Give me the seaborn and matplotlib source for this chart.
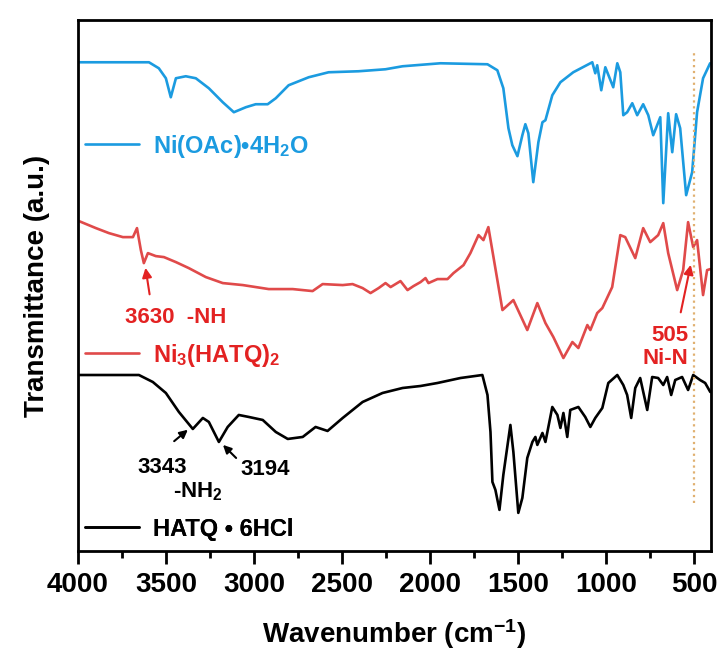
import numpy as np
import pandas as pd
import seaborn as sns
import matplotlib.pyplot as plt
from matplotlib.lines import Line2D

# ----- data (wavenumber in cm-1, transmittance in a.u.) -----
blue_wn = [3994, 3597, 3541, 3501, 3473, 3444, 3388, 3331, 3257, 3178,
           3115, 3047, 2991, 2923, 2877, 2804, 2690, 2577, 2407, 2254,
           2157, 1942, 1675, 1619, 1585, 1556, 1534, 1505, 1477, 1460,
           1443, 1415, 1386, 1363, 1346, 1307, 1261, 1188, 1080, 1063,
           1052, 1029, 1006, 961, 938, 921, 904, 882, 853, 825,
           791, 762, 734, 694, 677, 649, 626, 604, 581, 547,
           513, 485, 451, 411]
blue_t = [485, 485, 479, 469, 450, 469, 471, 469, 459, 445,
          435, 440, 443, 443, 449, 462, 470, 475, 476, 478,
          481, 484, 483, 477, 459, 419, 402, 391, 412, 423,
          414, 365, 405, 425, 427, 452, 465, 475, 485, 474,
          482, 457, 480, 460, 484, 475, 432, 435, 444, 432,
          443, 432, 412, 430, 344, 434, 395, 433, 419, 352,
          375, 435, 469, 484]

red_wn = [3994, 3898, 3824, 3745, 3688, 3665, 3643, 3626, 3603, 3558,
          3512, 3444, 3371, 3274, 3178, 3064, 2917, 2781, 2668, 2611,
          2497, 2441, 2384, 2339, 2293, 2254, 2225, 2169, 2129, 2095,
          2055, 2027, 2010, 1959, 1902, 1868, 1811, 1772, 1726, 1698,
          1670, 1641, 1590, 1528, 1449, 1392, 1346, 1301, 1244, 1193,
          1159, 1108, 1091, 1052, 1023, 967, 921, 893, 836, 791,
          751, 706, 677, 649, 598, 564, 536, 507, 485, 451,
          428, 410]
red_t = [326, 319, 314, 310, 310, 319, 297, 284, 294, 291,
         290, 285, 279, 270, 264, 262, 258, 258, 256, 263,
         262, 263, 259, 254, 259, 264, 260, 266, 257, 261,
         265, 269, 264, 268, 268, 274, 282, 294, 312, 307,
         320, 290, 237, 247, 217, 244, 224, 210, 189, 205,
         199, 222, 217, 234, 239, 260, 312, 310, 289, 319,
         305, 312, 324, 294, 257, 277, 325, 300, 307, 252,
         277, 278]

black_wn = [3994, 3654, 3575, 3501, 3427, 3348, 3291, 3257, 3200, 3150,
            3087, 3030, 2951, 2877, 2809, 2724, 2651, 2583, 2497, 2384,
            2271, 2157, 2055, 1959, 1828, 1704, 1675, 1658, 1647, 1630,
            1607, 1585, 1545, 1528, 1500, 1477, 1449, 1420, 1403, 1392,
            1363, 1346, 1307, 1278, 1261, 1244, 1222, 1205, 1159, 1120,
            1091, 1063, 1023, 989, 938, 904, 882, 859, 836, 808,
            768, 740, 706, 677, 655, 632, 609, 570, 536, 507,
            468, 439, 410]
black_t = [172, 172, 165, 154, 135, 118, 129, 125, 105, 120,
           132, 130, 127, 115, 108, 110, 120, 116, 129, 145,
           154, 159, 161, 164, 169, 172, 152, 115, 65, 57,
           37, 72, 122, 95, 34, 49, 89, 105, 110, 102,
           114, 105, 140, 132, 119, 134, 110, 137, 140, 130,
           120, 129, 139, 164, 172, 162, 152, 129, 159, 169,
           137, 170, 169, 162, 170, 152, 167, 170, 157, 172,
           167, 164, 155]

labels = ['Ni(OAc)•4H$_2$O', 'Ni$_3$(HATQ)$_2$', 'HATQ • 6HCl']
line_colors = ['#1B9BE0', '#E04A4A', '#000000']
text_colors = ['#1B9BE0', '#E32222', '#000000']
ni_n_peak = 505

# ----- style -----
sns.set_style("ticks")
plt.rcParams['font.family'] = ['Liberation Sans', 'DejaVu Sans']
plt.rcParams['font.weight'] = 'bold'
plt.rcParams['mathtext.fontset'] = 'custom'
plt.rcParams['mathtext.rm'] = 'Liberation Sans:bold'
plt.rcParams['mathtext.default'] = 'rm'
plt.rcParams['text.color'] = 'black'
plt.rcParams['axes.labelcolor'] = 'black'
plt.rcParams['axes.edgecolor'] = 'black'
plt.rcParams['xtick.color'] = 'black'

fig = plt.figure(figsize=(7.22, 6.55), dpi=100)
ax = fig.add_axes([0.108, 0.159, 0.877, 0.810])

series = [(blue_wn, blue_t), (red_wn, red_t), (black_wn, black_t)]
for (wn, t), col in zip(series, line_colors):
    df = pd.DataFrame({'wn': wn, 't': t})
    sns.lineplot(data=df, x='wn', y='t', sort=False, estimator=None,
                 color=col, lw=1.9, ax=ax)

ax.axvline(ni_n_peak, ymin=0.09, ymax=0.938, color='#E0B070', ls=':', lw=1.6)

ax.set_xlim(4000, 405)
ax.set_ylim(-4, 527)
ax.set_xticks([4000, 3500, 3000, 2500, 2000, 1500, 1000, 500])
ax.set_xticks(np.arange(3750, 400, -500), minor=True)
ax.set_yticks([])
ax.tick_params(axis='x', which='major', direction='out', length=9, width=2,
               labelsize=20, pad=6, colors='black')
ax.tick_params(axis='x', which='minor', direction='out', length=5, width=2,
               colors='black')
for lab in ax.get_xticklabels():
    lab.set_fontweight('bold')
for sp in ax.spines.values():
    sp.set_linewidth(2)
    sp.set_color('black')
    sp.set_visible(True)

ax.set_xlabel('Wavenumber (cm$^{-1}$)', fontsize=20, fontweight='bold', labelpad=14)
ax.set_ylabel('Transmittance (a.u.)', fontsize=20, fontweight='bold', labelpad=20)

# ----- one legend entry per curve, each next to its own trace -----
legend_y = [0.763, 0.369, 0.041]
for i in range(3):
    h = Line2D([], [], color=line_colors[i], lw=1.9)
    leg = ax.legend([h], [labels[i]], loc='center left',
                    bbox_to_anchor=(0.011, legend_y[i]), frameon=False,
                    borderpad=0, borderaxespad=0, handlelength=2.3,
                    handletextpad=0.6, prop={'size': 17, 'weight': 'bold'},
                    labelcolor=text_colors[i])
    ax.add_artist(leg)

# ----- peak annotations -----
red_txt = text_colors[1]
ax.text(3443, 230, '3630  -NH', color=red_txt, fontsize=16, fontweight='bold',
        ha='center', va='center')
ax.annotate('', xy=(3619, 282), xytext=(3591, 250),
            arrowprops=dict(arrowstyle='-|>', color=red_txt, lw=1.5, mutation_scale=14))
ax.text(535, 200, '505\nNi-N', color=red_txt, fontsize=16, fontweight='bold',
        ha='right', va='center', multialignment='right', linespacing=1.1)
ax.annotate('', xy=(518, 285), xytext=(581, 232),
            arrowprops=dict(arrowstyle='-|>', color=red_txt, lw=1.5, mutation_scale=14))

ax.text(3523, 79, '3343', color='black', fontsize=16, fontweight='bold', ha='center', va='center')
ax.text(3318, 55, '-NH$_2$', color='black', fontsize=16, fontweight='bold', ha='center', va='center')
ax.text(2938, 77, '3194', color='black', fontsize=16, fontweight='bold', ha='center', va='center')
ax.annotate('', xy=(3364, 119), xytext=(3466, 104),
            arrowprops=dict(arrowstyle='-|>', color='black', lw=1.5, mutation_scale=12))
ax.annotate('', xy=(3188, 104), xytext=(3091, 87),
            arrowprops=dict(arrowstyle='-|>', color='black', lw=1.5, mutation_scale=12))

fig.savefig('out.png', dpi=100)
